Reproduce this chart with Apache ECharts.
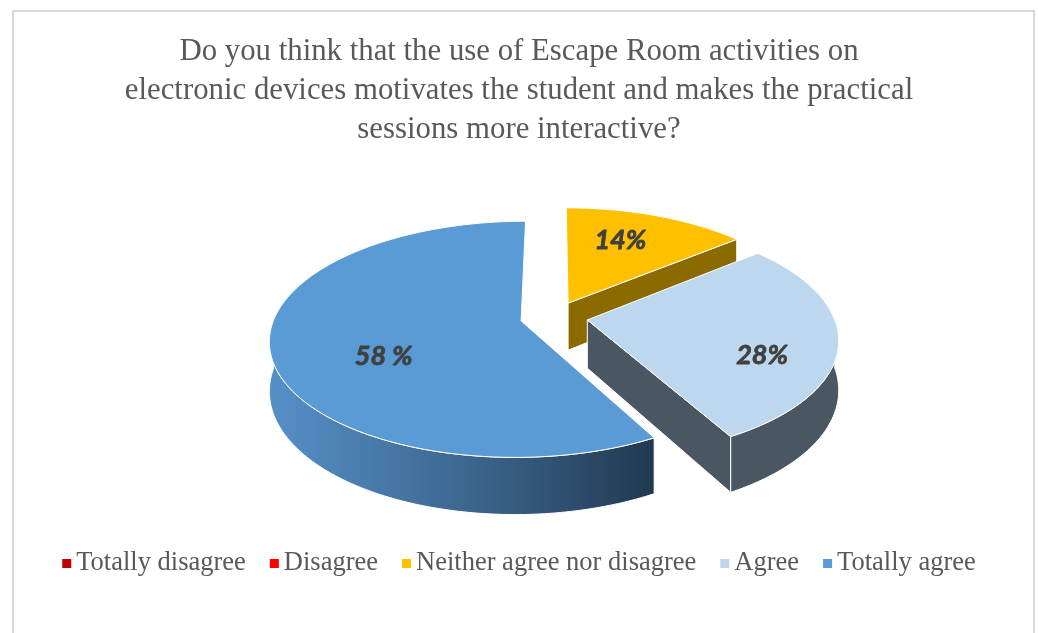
<!DOCTYPE html>
<html>
<head>
<meta charset="utf-8">
<script src="https://cdn.jsdelivr.net/npm/echarts@6/dist/echarts.min.js"></script>
<style>
html, body { margin: 0; padding: 0; background: #fff; }
#chart { width: 1038px; height: 633px; }
</style>
</head>
<body>
<div id="chart"></div>
<script>
var categories = ['Totally disagree', 'Disagree', 'Neither agree nor disagree', 'Agree', 'Totally agree'];
var shares = [0, 0, 14, 28, 58];
var labelTexts = ['', '', '14%', '28%', '58 %'];
var topColors = ['#C00000', '#FF0000', '#FFC000', '#BDD7EE', '#5B9BD5'];
var sideShades = [['#7A0000'], ['#A30000'], ['#8B6B00'], ['#4A5661'], ['#5690C9', '#3D6890', '#213950']];

// 3d pie layout (screen px), excel style: first slice starts at 12 o'clock, clockwise
var pie = { cx: 554, cy: 317, r: 246.5, tilt: 114, persp: 0.155, depth: 48, explode: 0.137 };
// manual label spots: [radius fraction, turn from mid angle in deg]
var labelSpot = [[0.6, 0], [0.6, 0], [0.67, -4], [0.73, 13], [0.6, -15]];

var total = shares.reduce(function (a, b) { return a + b; }, 0);
var starts = [];
var acc = 0;
shares.forEach(function (v) { starts.push(acc); acc += v / total * 360; });

var rad = Math.PI / 180;

function proj(u, v, down) {
	var k = 1 / (1 - pie.persp * v);
	return [pie.cx + pie.r * u * k, pie.cy + (pie.tilt * v + pie.depth * down) * k];
}
function rim(off, deg, f, down) {
	return proj(off[0] + f * Math.sin(deg * rad), off[1] - f * Math.cos(deg * rad), down);
}
function arc(off, a0, a1, down) {
	var pts = [];
	var n = Math.max(2, Math.ceil(Math.abs(a1 - a0)));
	for (var j = 0; j <= n; j++) {
		pts.push(rim(off, a0 + (a1 - a0) * j / n, 1, down));
	}
	return pts;
}
function sideFill(i) {
	var c = sideShades[i];
	if (c.length === 1) return c[0];
	return new echarts.graphic.LinearGradient(0, 0, 1, 0, c.map(function (col, j) {
		return { offset: j / (c.length - 1), color: col };
	}));
}

function makeSeries(i) {
	return {
		name: categories[i],
		type: 'custom',
		coordinateSystem: 'none',
		itemStyle: { color: topColors[i] },
		silent: true,
		data: [shares[i]],
		renderItem: function (params, api) {
			var val = api.value(0);
			if (!val) return { type: 'group', children: [] };
			var s = starts[i], e = s + val / total * 360, m = (s + e) / 2;
			var off = [pie.explode * Math.sin(m * rad), -pie.explode * Math.cos(m * rad)];
			var apexTop = proj(off[0], off[1], 0), apexBot = proj(off[0], off[1], 1);
			var kids = [];
			var edge = { stroke: '#fff', lineWidth: 1, lineJoin: 'round' };

			// outer wall, front half only
			var a0 = Math.max(s, 90), a1 = Math.min(e, 270);
			if (a1 > a0) {
				var wall = arc(off, a0, a1, 0).concat(arc(off, a1, a0, 1));
				var vm = -Math.cos((a0 + a1) / 2 * rad);
				kids.push({ type: 'polygon', z2: 20 + Math.round(vm * 10), shape: { points: wall },
					style: Object.assign({ fill: sideFill(i) }, edge) });
			}
			// cut faces facing the viewer
			[[s, s - 90], [e, e + 90]].forEach(function (p) {
				var facing = -Math.cos(p[1] * rad);
				if (facing > 0.05) {
					var vm = off[1] - 0.5 * Math.cos(p[0] * rad);
					kids.push({ type: 'polygon', z2: 20 + Math.round(vm * 10),
						shape: { points: [apexTop, rim(off, p[0], 1, 0), rim(off, p[0], 1, 1), apexBot] },
						style: Object.assign({ fill: sideFill(i) }, edge) });
				}
			});
			// top face
			kids.push({ type: 'polygon', z2: 100, shape: { points: [apexTop].concat(arc(off, s, e, 0)) },
				style: Object.assign({ fill: topColors[i] }, edge) });
			// label
			var ls = labelSpot[i];
			var lp = rim(off, m + ls[1], ls[0], 0);
			kids.push({ type: 'text', z2: 200, x: lp[0], y: lp[1],
				style: { text: labelTexts[i], align: 'center', verticalAlign: 'middle',
					font: 'italic bold 27px Lato', fill: '#404040',
					stroke: '#404040', lineWidth: 0.8 } });
			return { type: 'group', children: kids };
		}
	};
}

var myChart = echarts.init(document.getElementById('chart'));
var option = {
	backgroundColor: '#fff',
	animation: false,
	title: {
		text: 'Do you think that the use of Escape Room activities on\nelectronic devices motivates the student and makes the practical\nsessions more interactive?',
		left: 'center',
		top: 32,
		padding: 0,
		textStyle: {
			fontFamily: 'Liberation Serif',
			fontWeight: 'normal',
			fontSize: 30.8,
			lineHeight: 39,
			color: '#595959'
		}
	},
	legend: {
		data: categories,
		top: 545,
		left: 'center',
		icon: 'rect',
		itemWidth: 9,
		itemHeight: 9,
		itemGap: 24,
		selectedMode: false,
		textStyle: { fontFamily: 'Liberation Serif', fontSize: 26.5, color: '#595959' }
	},
	graphic: [{
		type: 'rect',
		silent: true,
		shape: { x: 13, y: 11, width: 1021, height: 640 },
		style: { fill: 'none', stroke: '#D9D9D9', lineWidth: 2 }
	}],
	series: categories.map(function (c, i) { return makeSeries(i); })
};
myChart.setOption(option);
</script>
</body>
</html>
